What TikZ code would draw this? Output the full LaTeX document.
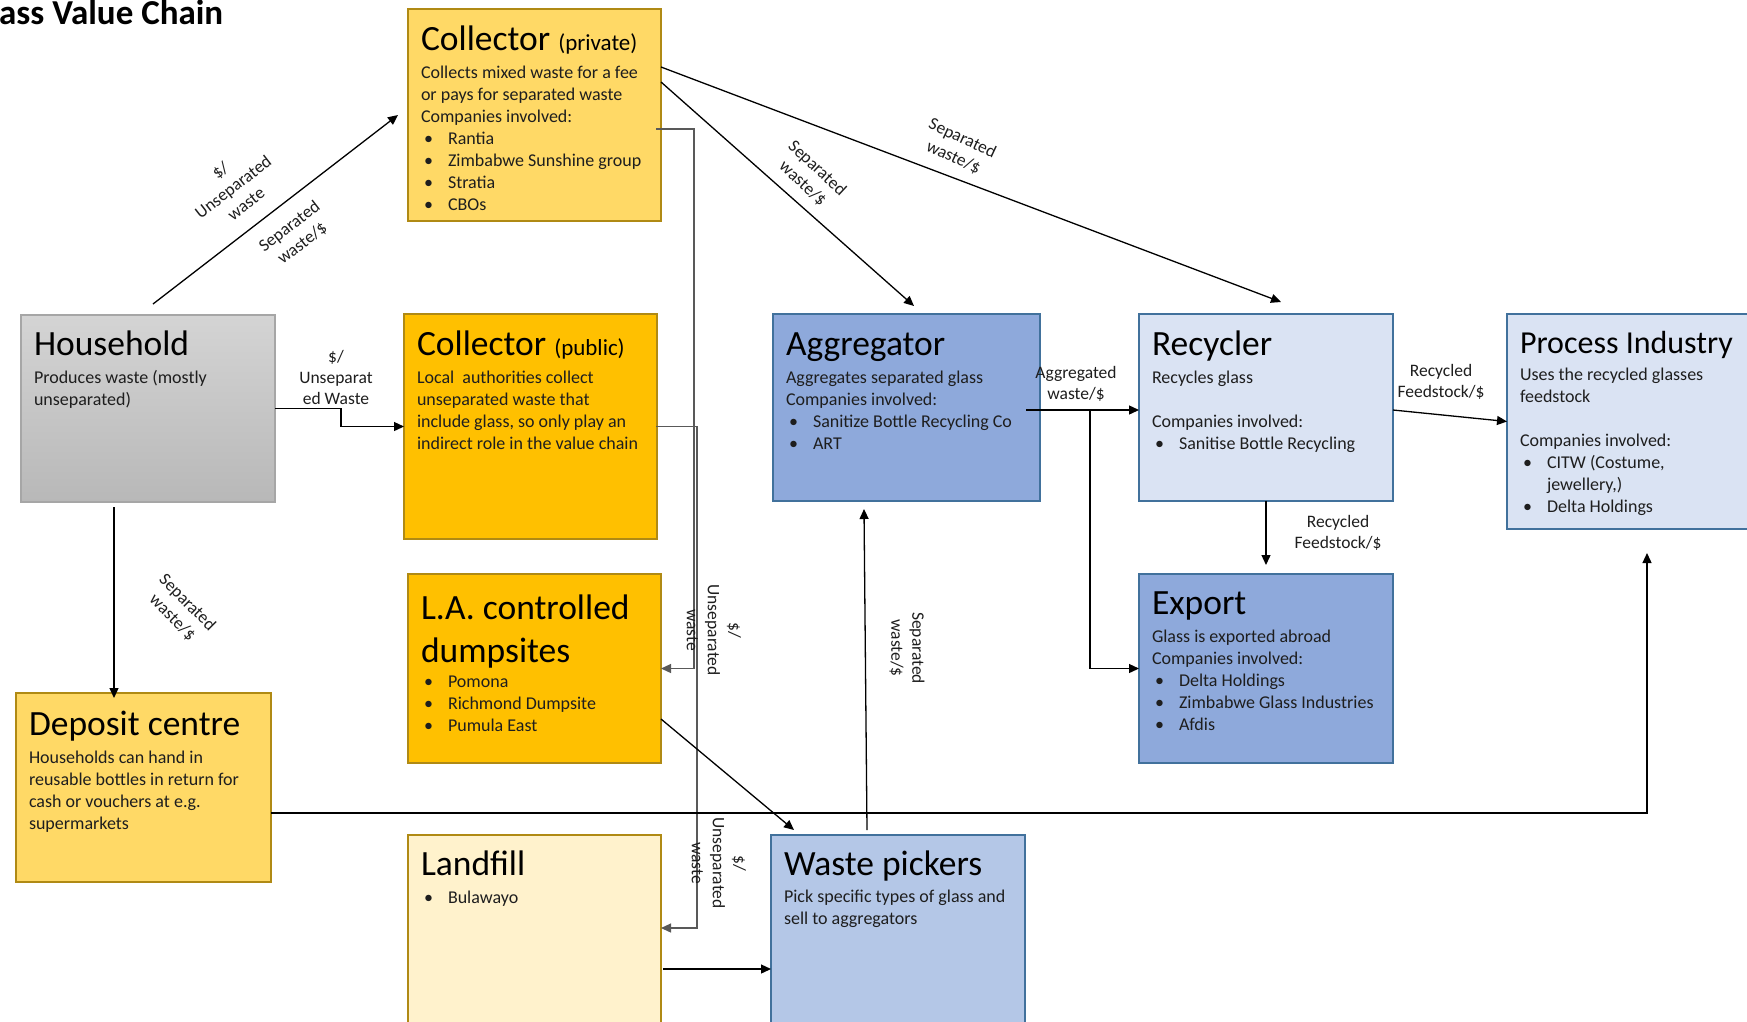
\documentclass[tikz,border=0pt]{standalone}
\usepackage{fontspec}
\setmainfont{Carlito}
\usetikzlibrary{arrows.meta}

\definecolor{goldlight}{HTML}{FFD966}
\definecolor{gold}{HTML}{FFC000}
\definecolor{cream}{HTML}{FFF2CC}
\definecolor{goldline}{HTML}{B08A14}
\definecolor{bluemid}{HTML}{8EA9DB}
\definecolor{bluelight}{HTML}{DAE3F3}
\definecolor{bluepick}{HTML}{B4C7E7}
\definecolor{blueline}{HTML}{41719C}
\definecolor{hhtop}{HTML}{D4D4D4}
\definecolor{hhbot}{HTML}{B8B8B8}
\definecolor{hhline}{HTML}{A6A6A6}
\definecolor{ink}{HTML}{1E1E1E}

% bullet line: bullet, then text on a 27pt tab
\newcommand\bul[1]{\par\noindent\hbox to 27pt{\hskip3pt\textbullet\hfil}#1}
% card contents: width, height, first-baseline drop, title, extra gap, body
\newcommand\cardtext[6]{%
  \parbox[c][#2][t]{#1}{\parskip=0pt\lineskiplimit=-100pt\lineskip=0pt\raggedright
    {\fontsize{35.5}{43}\selectfont\rule{0pt}{#3}#4\par}%
    \vspace{#5}%
    {\color{ink}\fontsize{18}{22}\selectfont #6\par}}}
\newcommand\subttl[1]{{\fontsize{23}{28}\selectfont #1}}

\tikzset{
  card/.style={anchor=north west, inner xsep=13pt, inner ysep=0pt, outer sep=0pt, line width=2pt},
  conn/.style={line width=1.3pt, draw=black},
  arr/.style={conn, -{Triangle[length=10pt,width=9pt]}},
  grayarr/.style={arr, draw=black!65},
  lbl/.style={font=\fontsize{17.5}{21}\selectfont, align=center, inner sep=0pt, text=ink}
}

\begin{document}
\begin{tikzpicture}[x=1pt,y=-1pt]
\useasboundingbox (0,0) rectangle (1747,1021);
\clip (0,0) rectangle (1747,1021);
\fill[white] (0,0) rectangle (1747,1021);

\node[anchor=base west, inner sep=0pt, font=\bfseries\fontsize{35}{40}\selectfont] (title) at (-1,24) {ass Value Chain};

% ---- actors ----
\node[card, fill=goldlight, draw=goldline] (cpriv) at (408,9)
  {\cardtext{227pt}{212pt}{41pt}{Collector \subttl{(private)}}{6pt}{%
   Collects mixed waste for a fee\\
   or pays for separated waste\\
   Companies involved:
   \bul{Rantia}
   \bul{Zimbabwe Sunshine group}
   \bul{Stratia}
   \bul{CBOs}}};

\node[card, top color=hhtop, bottom color=hhbot, draw=hhline] (house) at (21,315)
  {\cardtext{228pt}{187pt}{40pt}{Household}{6pt}{%
   Produces waste (mostly\\
   unseparated)}};

\node[card, fill=gold, draw=goldline] (cpub) at (404,314)
  {\cardtext{227pt}{225pt}{41pt}{Collector \subttl{(public)}}{6pt}{%
   Local\ \ authorities collect\\
   unseparated waste that\\
   include glass, so only play an\\
   indirect role in the value chain}};

\node[card, fill=gold, draw=goldline] (ladump) at (408,574)
  {\cardtext{227pt}{189pt}{45pt}{L.A. controlled\\dumpsites}{3pt}{%
   \bul{Pomona}
   \bul{Richmond Dumpsite}
   \bul{Pumula East}}};

\node[card, fill=goldlight, draw=goldline] (deposit) at (16,693)
  {\cardtext{229pt}{189pt}{42pt}{Deposit centre}{6pt}{%
   Households can hand in\\
   reusable bottles in return for\\
   cash or vouchers at e.g.\\
   supermarkets}};

\node[card, fill=cream, draw=goldline] (landfill) at (408,835)
  {\cardtext{227pt}{215pt}{40pt}{Landfill}{6pt}{%
   \bul{Bulawayo}}};

\node[card, fill=bluemid, draw=blueline] (aggr) at (773,314)
  {\cardtext{241pt}{187pt}{41pt}{Aggregator}{6pt}{%
   Aggregates separated glass\\
   Companies involved:
   \bul{Sanitize Bottle Recycling Co}
   \bul{ART}}};

\node[card, fill=bluelight, draw=blueline] (recyc) at (1139,314)
  {\cardtext{228pt}{187pt}{41pt}{Recycler}{6pt}{%
   Recycles glass\\[22pt]
   Companies involved:
   \bul{Sanitise Bottle Recycling}}};

\node[card, fill=bluelight, draw=blueline] (proc) at (1507,314)
  {\cardtext{244pt}{215pt}{39pt}{\fontsize{32}{38}\selectfont Process Industry}{5pt}{%
   Uses the recycled glasses\\
   feedstock\\[22pt]
   Companies involved:
   \bul{CITW (Costume,}
   \par\noindent\hspace*{27pt}jewellery,)
   \bul{Delta Holdings}}};

\node[card, fill=bluemid, draw=blueline] (export) at (1139,574)
  {\cardtext{228pt}{189pt}{40pt}{Export}{6pt}{%
   Glass is exported abroad\\
   Companies involved:
   \bul{Delta Holdings}
   \bul{Zimbabwe Glass Industries}
   \bul{Afdis}}};

\node[card, fill=bluepick, draw=blueline] (pickers) at (771,835)
  {\cardtext{228pt}{215pt}{40pt}{Waste pickers}{5pt}{%
   Pick specific types of glass and\\
   sell to aggregators}};

% ---- flows ----
\draw[arr] ([xshift=5pt,yshift=11pt]house.north) -- ([xshift=-10pt]cpriv.west);
\draw[arr] (house.east) -- ++(66,0) |- (cpub.west);
\draw[arr] ([xshift=-34pt,yshift=-5pt]house.south) -- ([xshift=-34pt,yshift=-5pt]house.south |- deposit.north);

\draw[arr] ([yshift=48pt]cpriv.east) -- ([xshift=15pt,yshift=12pt]recyc.north);
\draw[arr] ([yshift=33pt]cpriv.east) -- ([xshift=7.5pt,yshift=8pt]aggr.north);
\draw[grayarr] ([xshift=-5pt,yshift=-14pt]cpriv.east) -- ++(38,0) |- (ladump.east);
\draw[grayarr] ([xshift=-1pt]cpub.east) -- ++(41,0) |- ([yshift=14.5pt]landfill.east);

\draw[arr] ([yshift=-50.5pt]ladump.east) -- ([xshift=-104pt,yshift=5pt]pickers.north);
\draw[arr] ([xshift=2pt,yshift=-26.5pt]landfill.east) -- ([yshift=-26.5pt]pickers.west);
\draw[arr] ([yshift=-25.5pt]deposit.east) -| ([xshift=5pt,yshift=-24pt]proc.south);
\draw[arr] ([xshift=-31pt,yshift=5pt]pickers.north) -- ([xshift=-42.5pt,yshift=-8pt]aggr.south);

\coordinate (split) at ([xshift=50pt,yshift=-2.5pt]aggr.east);
\draw[arr] ([xshift=-14pt,yshift=-2.5pt]aggr.east) -- ([yshift=-2.5pt]recyc.west);
\draw[arr] (split) |- (export.west);
\draw[arr] ([yshift=-2.5pt]recyc.east) -- (proc.west);
\draw[arr] (recyc.south) -- ([yshift=9pt]export.north);

% ---- flow labels ----
\node[lbl, rotate=37.8] (l1) at (233,187) {\$/\\Unseparated\\waste};
\node[lbl, rotate=37.8] (l2) at (296,235) {Separated\\waste/\$};
\node[lbl] (l3) at (336,377) {\$/\\Unseparat\\ed Waste};
\node[lbl, rotate=-45] (l4) at (180,610) {Separated\\waste/\$};
\node[lbl, rotate=-43] (l5) at (810,176) {Separated\\waste/\$};
\node[lbl, rotate=-25] (l6) at (958,148) {Separated\\waste/\$};
\node[lbl, rotate=-90] (l7) at (714,630) {\$/\\Unseparated\\waste};
\node[lbl, rotate=-90] (l8) at (719,863) {\$/\\Unseparated\\waste};
\node[lbl, rotate=-90] (l9) at (907,648) {Separated\\waste/\$};
\node[lbl] (l10) at (1076,384) {Aggregated\\waste/\$};
\node[lbl] (l11) at (1441,382) {Recycled\\Feedstock/\$};
\node[lbl] (l12) at (1338,533) {Recycled\\Feedstock/\$};
\end{tikzpicture}
\end{document}
